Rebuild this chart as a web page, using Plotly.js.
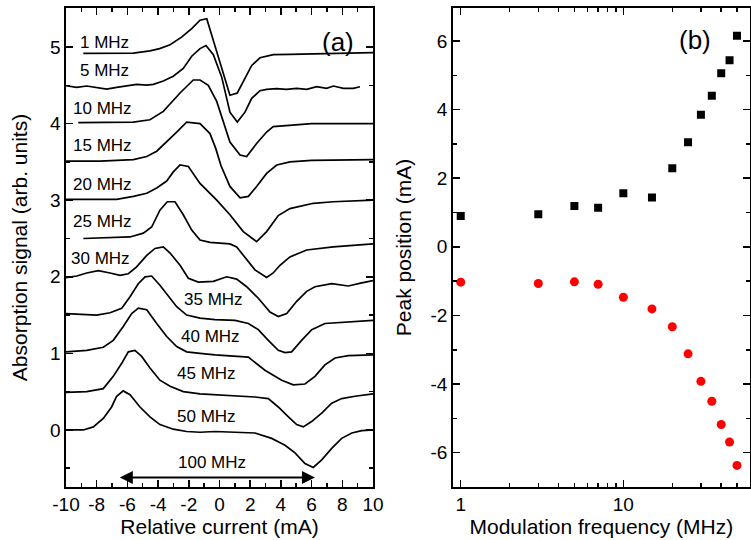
<!DOCTYPE html>
<html><head><meta charset="utf-8">
<script src="https://cdn.plot.ly/plotly-3.0.1.min.js"></script>
<style>html,body{margin:0;padding:0;background:#fff}#chart{width:751px;height:540px}</style>
</head><body><div id="chart"></div>
<script>
// ---------- Panel (a): absorption curves ----------
const curveNames = ['1 MHz','5 MHz','10 MHz','15 MHz','20 MHz','25 MHz','30 MHz','35 MHz','40 MHz','45 MHz','50 MHz'];

const x_1MHz = [-8.87,-5.61,-4.53,-3.9,-3.22,-2.47,-1.81,-1.27,-0.83,0.68,1.16,1.66,2.10,2.64,3.51,4.59,10];
const y_1MHz = [4.917,4.92,4.95,4.98,5.03,5.13,5.24,5.35,5.37,4.37,4.40,4.59,4.76,4.86,4.90,4.905,4.926];

const x_5MHz = [-10,-9.30,-8.65,-8.00,-7.35,-6.70,-6.05,-5.40,-4.74,-4.31,-3.66,-3.01,-2.36,-1.81,-1.27,-0.88,-0.40,0.14,0.68,1.16,1.66,2.10,2.64,3.07,3.72,4.37,5.03,5.68,6.33,6.98,7.42,8.07,8.72,9.15];
const y_5MHz = [4.495,4.473,4.491,4.473,4.452,4.473,4.495,4.513,4.504,4.513,4.556,4.62,4.72,4.88,4.98,5.02,4.90,4.61,4.15,4.02,4.15,4.33,4.43,4.447,4.456,4.447,4.46,4.447,4.482,4.46,4.491,4.46,4.46,4.482];

const x_10MHz = [-9.20,-7.78,-5.61,-4.53,-3.66,-2.57,-1.71,-1.27,-0.73,-0.18,0.68,1.34,1.77,2.42,3.07,3.50,4.59,6.0,10];
const y_10MHz = [4.012,4.012,4.02,4.05,4.16,4.40,4.57,4.57,4.50,4.29,3.76,3.59,3.57,3.74,3.89,3.96,3.98,4.0,4.0];

const x_15MHz = [-10,-7.78,-5.61,-4.74,-4.09,-3.66,-2.79,-2.14,-1.27,-0.62,-0.25,0.10,0.68,1.34,1.88,2.42,3.07,3.73,4.59,6.0,10];
const y_15MHz = [3.51,3.51,3.53,3.57,3.64,3.72,3.89,4.02,4.00,3.87,3.68,3.45,3.18,3.03,3.05,3.18,3.35,3.46,3.50,3.52,3.53];

const x_20MHz = [-10,-6.70,-5.61,-4.74,-4.09,-3.44,-3.01,-2.57,-2.03,-1.27,-0.18,0.68,1.55,2.42,3.07,3.50,3.83,4.59,6.11,7.41,10];
const y_20MHz = [3.01,3.01,3.05,3.09,3.16,3.25,3.37,3.46,3.44,3.22,3.00,2.81,2.59,2.46,2.59,2.70,2.80,2.89,2.96,2.98,3.00];

const x_25MHz = [-8.87,-5.83,-4.96,-4.42,-3.88,-3.40,-2.90,-2.36,-1.81,-1.27,-0.62,0.68,1.12,1.66,2.31,3.07,3.50,3.94,4.59,5.68,7.41,10];
const y_25MHz = [2.50,2.52,2.57,2.65,2.87,2.98,2.98,2.81,2.61,2.48,2.45,2.43,2.39,2.26,2.09,1.99,2.05,2.15,2.26,2.35,2.39,2.43];

const x_30MHz = [-10,-9.30,-8.65,-7.90,-7.13,-6.48,-5.94,-5.40,-4.74,-4.20,-3.66,-3.22,-2.57,-2.03,-1.38,-0.40,0.47,1.12,1.77,2.53,3.29,3.83,4.38,5.03,5.68,6.22,7.31,8.39,9.27,10];
const y_30MHz = [1.99,2.01,2.05,2.08,2.05,2.02,2.04,2.13,2.28,2.37,2.39,2.31,2.15,1.98,1.93,1.94,2.00,1.97,1.87,1.72,1.54,1.48,1.52,1.68,1.81,1.87,1.91,1.88,1.92,1.95];

const x_35MHz = [-10,-8.00,-7.13,-6.37,-5.83,-5.29,-4.85,-4.42,-3.88,-3.22,-2.79,-2.14,-1.27,-0.29,1.01,1.88,2.53,3.18,3.83,4.27,4.70,5.35,6.01,6.87,8.39,10];
const y_35MHz = [1.52,1.50,1.53,1.59,1.74,1.91,2.00,2.01,1.89,1.72,1.61,1.50,1.46,1.44,1.43,1.39,1.31,1.17,1.04,1.01,1.02,1.17,1.31,1.39,1.41,1.43];

const x_40MHz = [-10,-8.65,-7.57,-6.92,-6.27,-5.72,-5.29,-4.74,-4.09,-3.44,-2.79,-2.14,-1.27,-0.29,1.88,2.96,4.05,4.81,5.57,6.22,6.87,7.53,8.39,10];
const y_40MHz = [1.02,1.04,1.08,1.17,1.35,1.52,1.59,1.57,1.39,1.22,1.09,1.02,1.00,0.98,0.95,0.78,0.65,0.59,0.60,0.70,0.85,0.94,0.97,0.98];

const x_45MHz = [-10,-8.65,-7.57,-6.92,-6.37,-5.94,-5.51,-5.07,-4.53,-3.88,-3.22,-2.36,-1.27,-0.29,1.01,2.31,3.18,3.83,4.49,5.03,5.46,6.00,6.66,7.31,7.96,8.83,10];
const y_45MHz = [0.49,0.50,0.54,0.70,0.87,1.02,1.04,0.96,0.81,0.65,0.57,0.50,0.47,0.46,0.44,0.43,0.41,0.30,0.17,0.07,0.04,0.11,0.22,0.35,0.41,0.44,0.47];

const x_50MHz = [-10,-8.87,-8.22,-7.57,-7.03,-6.70,-6.27,-5.83,-5.18,-4.53,-3.88,-3.01,-2.14,-1.27,-0.29,1.01,2.31,3.40,4.27,4.92,5.57,6.11,6.66,7.31,7.96,8.62,9.27,10];
const y_50MHz = [0.00,0.00,0.04,0.15,0.30,0.44,0.51,0.46,0.30,0.17,0.07,0.01,-0.02,-0.03,-0.02,-0.03,-0.04,-0.11,-0.20,-0.30,-0.44,-0.49,-0.39,-0.24,-0.11,-0.04,-0.01,0.00];

const curveX = [x_1MHz,x_5MHz,x_10MHz,x_15MHz,x_20MHz,x_25MHz,x_30MHz,x_35MHz,x_40MHz,x_45MHz,x_50MHz];
const curveY = [y_1MHz,y_5MHz,y_10MHz,y_15MHz,y_20MHz,y_25MHz,y_30MHz,y_35MHz,y_40MHz,y_45MHz,y_50MHz];

// label for the double arrow and its span (mA)
const spanLabel = '100 MHz';
const spanStart = -6.59;
const spanEnd = 6.22;

const xTickValsA = [-10,-8,-6,-4,-2,0,2,4,6,8,10];
const xTickTextA = ['-10','-8','-6','-4','-2','0','2','4','6','8','10'];
const yTickValsA = [0,1,2,3,4,5];
const yTickTextA = ['0','1','2','3','4','5'];

// ---------- Panel (b): peak positions ----------
const modFreq = [1,3,5,7,10,15,20,25,30,35,40,45,50];
const peakPositive = [0.90,0.95,1.19,1.14,1.56,1.44,2.29,3.05,3.85,4.40,5.06,5.44,6.15];
const peakNegative = [-1.03,-1.07,-1.02,-1.09,-1.47,-1.81,-2.33,-3.12,-3.92,-4.50,-5.18,-5.69,-6.37];

const xTickValsB = [1,10];
const xTickTextB = ['1','10'];
const yTickValsB = [-6,-4,-2,0,2,4,6];
const yTickTextB = ['-6','-4','-2','0','2','4','6'];

// ---------- build ----------
const FONT = 'Arial, "Liberation Sans", sans-serif';
const traces = [];
for (let i = 0; i < curveX.length; i++) {
  traces.push({x: curveX[i], y: curveY[i], type: 'scatter', mode: 'lines', name: curveNames[i],
    line: {color: '#000', width: 1.7}, xaxis: 'x', yaxis: 'y', hoverinfo: 'skip'});
}
traces.push({x: modFreq, y: peakPositive, type: 'scatter', mode: 'markers', xaxis: 'x2', yaxis: 'y2',
  marker: {symbol: 'square', size: 8, color: '#000'}});
traces.push({x: modFreq, y: peakNegative, type: 'scatter', mode: 'markers', xaxis: 'x2', yaxis: 'y2',
  marker: {symbol: 'circle', size: 9, color: '#ff0000'}});

const labelPos = [[-7.52,5.06],[-7.52,4.69],[-7.62,4.20],[-7.62,3.71],[-7.62,3.21],[-7.62,2.72],[-7.73,2.24],[-0.40,1.70],[-0.57,1.22],[-0.83,0.74],[-0.83,0.17]];
const LBL = 17;
const annotations = curveNames.map((t, i) => ({
  x: labelPos[i][0], y: labelPos[i][1], xref: 'x', yref: 'y', text: t, showarrow: false,
  font: {family: FONT, size: LBL, color: '#000'}
}));
annotations.push({x: -0.46, y: -0.43, xref: 'x', yref: 'y', text: spanLabel, showarrow: false,
  font: {family: FONT, size: LBL, color: '#000'}});
annotations.push({x: spanEnd, y: -0.62, ax: spanStart, ay: -0.62, xref: 'x', yref: 'y', axref: 'x', ayref: 'y',
  text: '', showarrow: true, arrowhead: 2, arrowside: 'end+start', arrowwidth: 2, arrowsize: 1.3, arrowcolor: '#000'});
annotations.push({x: 7.69, y: 5.07, xref: 'x', yref: 'y', text: '(a)', showarrow: false,
  font: {family: FONT, size: 26, color: '#000'}});
annotations.push({x: Math.log10(27.7), y: 6.03, xref: 'x2', yref: 'y2', text: '(b)', showarrow: false,
  font: {family: FONT, size: 26, color: '#000'}});

const axBase = {
  showline: true, linecolor: '#000', linewidth: 1.6, mirror: 'ticks', ticks: 'inside', ticklen: 7,
  tickwidth: 1.5, tickcolor: '#000', showgrid: false, zeroline: false,
  tickfont: {family: FONT, size: 19, color: '#000'}, tickmode: 'array'
};
const titleFont = {family: FONT, size: 21, color: '#000'};

const layout = {
  width: 751, height: 540, margin: {l: 66, r: 1, t: 8, b: 53},
  paper_bgcolor: '#fff', plot_bgcolor: '#fff', showlegend: false,
  xaxis: Object.assign({}, axBase, {domain: [0, 0.4488], range: [-10, 10], tickvals: xTickValsA, ticktext: xTickTextA,
    minor: {tickmode: 'linear', tick0: -10, dtick: 1, ticks: 'inside', ticklen: 4, tickwidth: 1.5, tickcolor: '#000'},
    title: {text: 'Relative current (mA)', font: titleFont, standoff: 3}, anchor: 'y'}),
  yaxis: Object.assign({}, axBase, {domain: [0, 1], range: [-0.745, 5.51], tickvals: yTickValsA, ticktext: yTickTextA,
    minor: {tickmode: 'linear', tick0: -0.5, dtick: 0.5, ticks: 'inside', ticklen: 4, tickwidth: 1.5, tickcolor: '#000'},
    title: {text: 'Absorption signal (arb. units)', font: titleFont, standoff: 16}, anchor: 'x'}),
  xaxis2: Object.assign({}, axBase, {domain: [0.5654, 1], type: 'log', range: [-0.0492, 1.779], tickvals: xTickValsB, ticktext: xTickTextB,
    minor: {tickmode: 'array', tickvals: [2,3,4,5,6,7,8,9,20,30,40,50], ticks: 'inside', ticklen: 4, tickwidth: 1.5, tickcolor: '#000'},
    title: {text: 'Modulation frequency (MHz)', font: titleFont, standoff: 3}, anchor: 'y2'}),
  yaxis2: Object.assign({}, axBase, {domain: [0, 1], range: [-7, 6.96], tickvals: yTickValsB, ticktext: yTickTextB,
    minor: {tickmode: 'linear', tick0: -7, dtick: 1, ticks: 'inside', ticklen: 4, tickwidth: 1.5, tickcolor: '#000'},
    title: {text: 'Peak position (mA)', font: titleFont, standoff: 13}, anchor: 'x2'}),
  annotations: annotations
};

Plotly.newPlot('chart', traces, layout, {displayModeBar: false, staticPlot: true});
</script></body></html>
